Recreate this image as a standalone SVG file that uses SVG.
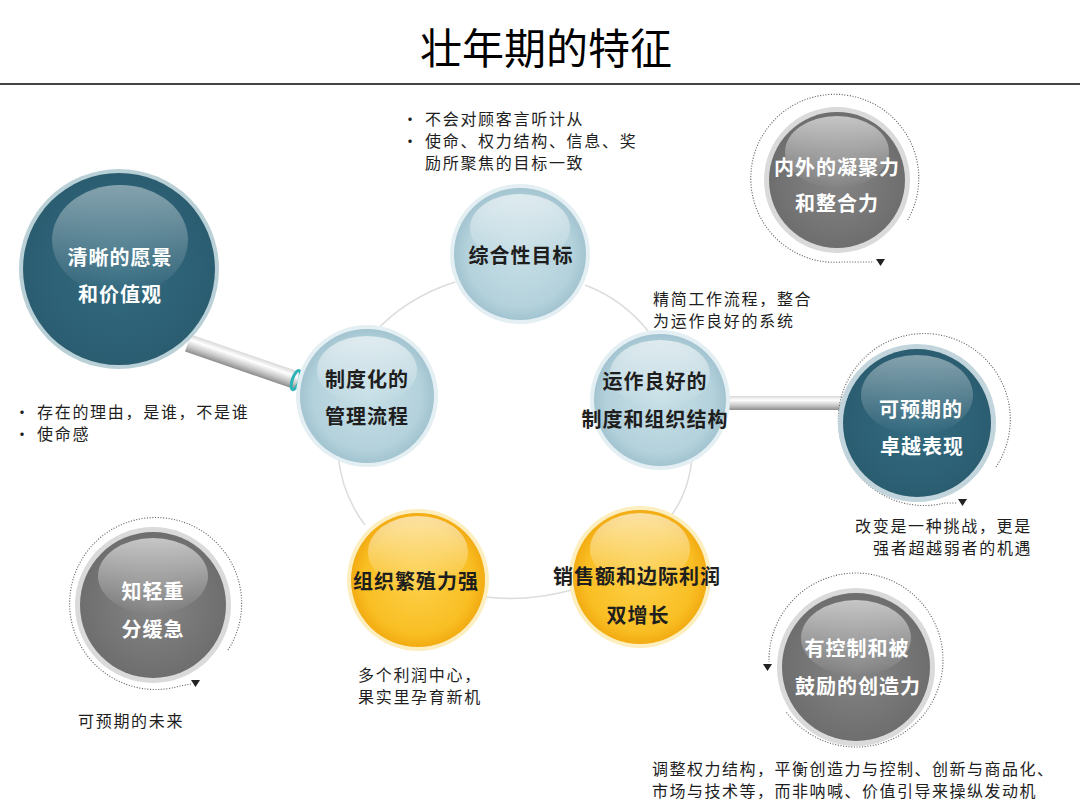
<svg xmlns="http://www.w3.org/2000/svg" width="1080" height="807" viewBox="0 0 1080 807">
<defs>
<style>
.lbl{font-family:"Noto Sans CJK SC","Noto Sans",sans-serif;font-weight:bold;font-size:20px;text-anchor:middle;dominant-baseline:central;fill:#1e1e1e;letter-spacing:1px}
.w{fill:#ffffff}
.note{font-family:"Noto Sans CJK SC","Noto Sans",sans-serif;font-size:16px;dominant-baseline:central;fill:#1e1e1e;letter-spacing:1.7px}
.arc{fill:none;stroke:#dcdcdc;stroke-width:1.5}
.ring{fill:none;stroke:#666;stroke-width:1.1;stroke-dasharray:1.1 1.6}
.tri{fill:#222}
</style>
<radialGradient id="gBlue" cx="50%" cy="50%" r="50%">
<stop offset="0" stop-color="#c6dee6"/><stop offset="0.8" stop-color="#b4d2dc"/><stop offset="1" stop-color="#a2c4d0"/>
</radialGradient>
<radialGradient id="gYellow" cx="50%" cy="50%" r="50%">
<stop offset="0" stop-color="#fdd04a"/><stop offset="0.8" stop-color="#f9bf24"/><stop offset="1" stop-color="#f2ac12"/>
</radialGradient>
<radialGradient id="gTeal" cx="50%" cy="50%" r="50%">
<stop offset="0" stop-color="#336b80"/><stop offset="1" stop-color="#2b5d71"/>
</radialGradient>
<radialGradient id="gGray" cx="50%" cy="50%" r="50%">
<stop offset="0" stop-color="#858585"/><stop offset="1" stop-color="#6e6e6e"/>
</radialGradient>
<linearGradient id="hl" x1="0" y1="0" x2="0" y2="1">
<stop offset="0" stop-color="#ffffff" stop-opacity="0.6"/><stop offset="1" stop-color="#ffffff" stop-opacity="0"/>
</linearGradient>
<linearGradient id="tube" x1="0" y1="0" x2="0" y2="1">
<stop offset="0" stop-color="#d8d8d8"/><stop offset="0.3" stop-color="#ffffff"/><stop offset="0.7" stop-color="#c4c4c4"/><stop offset="1" stop-color="#8c8c8c"/>
</linearGradient>
</defs>
<rect width="1080" height="807" fill="#ffffff"/>

<g id="title">
<text x="546" y="45" style="font-family:'Noto Sans CJK SC',sans-serif;font-size:42px;text-anchor:middle;dominant-baseline:central;fill:#000">壮年期的特征</text>
<line x1="0" y1="84" x2="1080" y2="84" stroke="#444" stroke-width="2"/>
</g>

<g id="connectors">
<path class="arc" d="M455 282 Q405 298 372 335"/>
<path class="arc" d="M585 285 Q625 300 652 336"/>
<path class="arc" d="M338 455 Q342 495 365 525"/>
<path class="arc" d="M485 597 Q527 602 572 590"/>
<path class="arc" d="M692 455 Q690 492 668 520"/>
<g transform="translate(188 343) rotate(19)">
<rect x="0" y="-9" width="116" height="18" fill="url(#tube)"/>
<ellipse cx="114" cy="0" rx="3.5" ry="10" fill="none" stroke="#2bb3b5" stroke-width="3"/>
</g>
<rect x="722" y="396" width="133" height="14" fill="url(#tube)"/>
<ellipse cx="853" cy="403" rx="3" ry="8" fill="none" stroke="#2bb3b5" stroke-width="3"/>
</g>

<g id="n-vision">
<circle cx="119" cy="269" r="100" fill="#b9d0d7"/>
<circle cx="119" cy="269" r="96" fill="url(#gTeal)"/>
<ellipse cx="120" cy="240" rx="68" ry="55" fill="url(#hl)" opacity="0.7"/>
<text class="lbl w" x="120" y="256">清晰的愿景</text>
<text class="lbl w" x="120" y="293">和价值观</text>
</g>

<g id="n-goal">
<circle cx="520" cy="254" r="70" fill="#e4eff3"/>
<circle cx="520" cy="254" r="66" fill="url(#gBlue)"/>
<ellipse cx="520" cy="228" rx="50" ry="34" fill="url(#hl)"/>
<text class="lbl" x="521" y="254">综合性目标</text>
</g>

<g id="n-process">
<circle cx="367" cy="396" r="71" fill="#e4eff3"/>
<circle cx="367" cy="396" r="67" fill="url(#gBlue)"/>
<ellipse cx="367" cy="370" rx="50" ry="34" fill="url(#hl)"/>
<text class="lbl" x="367" y="378">制度化的</text>
<text class="lbl" x="367" y="415">管理流程</text>
</g>

<g id="n-structure">
<circle cx="660" cy="400" r="70" fill="#e4eff3"/>
<circle cx="660" cy="400" r="66" fill="url(#gBlue)"/>
<ellipse cx="660" cy="374" rx="50" ry="34" fill="url(#hl)"/>
<text class="lbl" x="655" y="380">运作良好的</text>
<text class="lbl" x="655" y="418">制度和组织结构</text>
</g>

<g id="n-breed">
<circle cx="418" cy="580" r="71" fill="#fdeebf"/>
<circle cx="418" cy="580" r="67" fill="url(#gYellow)"/>
<ellipse cx="418" cy="552" rx="50" ry="36" fill="url(#hl)"/>
<text class="lbl" x="416" y="580">组织繁殖力强</text>
</g>

<g id="n-sales">
<circle cx="640" cy="577" r="71" fill="#fdeebf"/>
<circle cx="640" cy="577" r="67" fill="url(#gYellow)"/>
<ellipse cx="640" cy="549" rx="50" ry="36" fill="url(#hl)"/>
<text class="lbl" x="637" y="575">销售额和边际利润</text>
<text class="lbl" x="638" y="614">双增长</text>
</g>

<g id="n-cohesion">
<path class="ring" d="M907.7 220 A84 84 0 1 0 842 262 L874 262"/>
<polygon class="tri" points="876,259 885,259 880.5,266"/>
<circle cx="837" cy="180" r="73" fill="#dadada"/>
<circle cx="837" cy="180" r="68" fill="url(#gGray)"/>
<ellipse cx="837" cy="152" rx="52" ry="36" fill="url(#hl)"/>
<text class="lbl w" x="837" y="166">内外的凝聚力</text>
<text class="lbl w" x="837" y="202">和整合力</text>
</g>

<g id="n-excellence">
<path class="ring" d="M996 467 A86 86 0 1 0 945 503 L957 503"/>
<polygon class="tri" points="958,499 967,499 962.5,506"/>
<circle cx="917" cy="423" r="79" fill="#c2d5dc"/>
<circle cx="917" cy="423" r="74" fill="url(#gTeal)"/>
<ellipse cx="917" cy="395" rx="56" ry="40" fill="url(#hl)" opacity="0.7"/>
<text class="lbl w" x="921" y="408">可预期的</text>
<text class="lbl w" x="922" y="445">卓越表现</text>
</g>

<g id="n-priority">
<path class="ring" d="M228 650 A86 86 0 1 0 180 686 L191 684"/>
<polygon class="tri" points="191,680 200,680 195.5,687"/>
<circle cx="153" cy="605" r="78" fill="#dadada"/>
<circle cx="153" cy="605" r="73" fill="url(#gGray)"/>
<ellipse cx="153" cy="576" rx="55" ry="38" fill="url(#hl)"/>
<text class="lbl w" x="153" y="590">知轻重</text>
<text class="lbl w" x="153" y="628">分缓急</text>
</g>

<g id="n-creativity">
<path class="ring" d="M786.5 712.4 A87 87 0 1 0 769 662"/>
<polygon class="tri" points="763,664 772,664 767.5,671"/>
<circle cx="856" cy="667" r="79" fill="#dadada"/>
<circle cx="856" cy="667" r="74" fill="url(#gGray)"/>
<ellipse cx="856" cy="638" rx="55" ry="38" fill="url(#hl)"/>
<text class="lbl w" x="857" y="647">有控制和被</text>
<text class="lbl w" x="858" y="685">鼓励的创造力</text>
</g>

<g id="notes">
<text class="note" x="402" y="118">•</text><text class="note" x="425" y="118">不会对顾客言听计从</text>
<text class="note" x="402" y="140">•</text><text class="note" x="425" y="140">使命、权力结构、信息、奖</text>
<text class="note" x="425" y="162">励所聚焦的目标一致</text>
<text class="note" x="653" y="298">精简工作流程，整合</text>
<text class="note" x="653" y="320">为运作良好的系统</text>
<text class="note" x="14" y="411">•</text><text class="note" x="37" y="411">存在的理由，是谁，不是谁</text>
<text class="note" x="14" y="433">•</text><text class="note" x="37" y="433">使命感</text>
<text class="note" x="855" y="525">改变是一种挑战，更是</text>
<text class="note" x="873" y="547">强者超越弱者的机遇</text>
<text class="note" x="358" y="674">多个利润中心，</text>
<text class="note" x="358" y="696">果实里孕育新机</text>
<text class="note" x="78" y="720">可预期的未来</text>
<text class="note" x="652" y="768" style="letter-spacing:1.5px">调整权力结构，平衡创造力与控制、创新与商品化、</text>
<text class="note" x="652" y="790" style="letter-spacing:1.5px">市场与技术等，而非呐喊、价值引导来操纵发动机</text>
</g>
</svg>
